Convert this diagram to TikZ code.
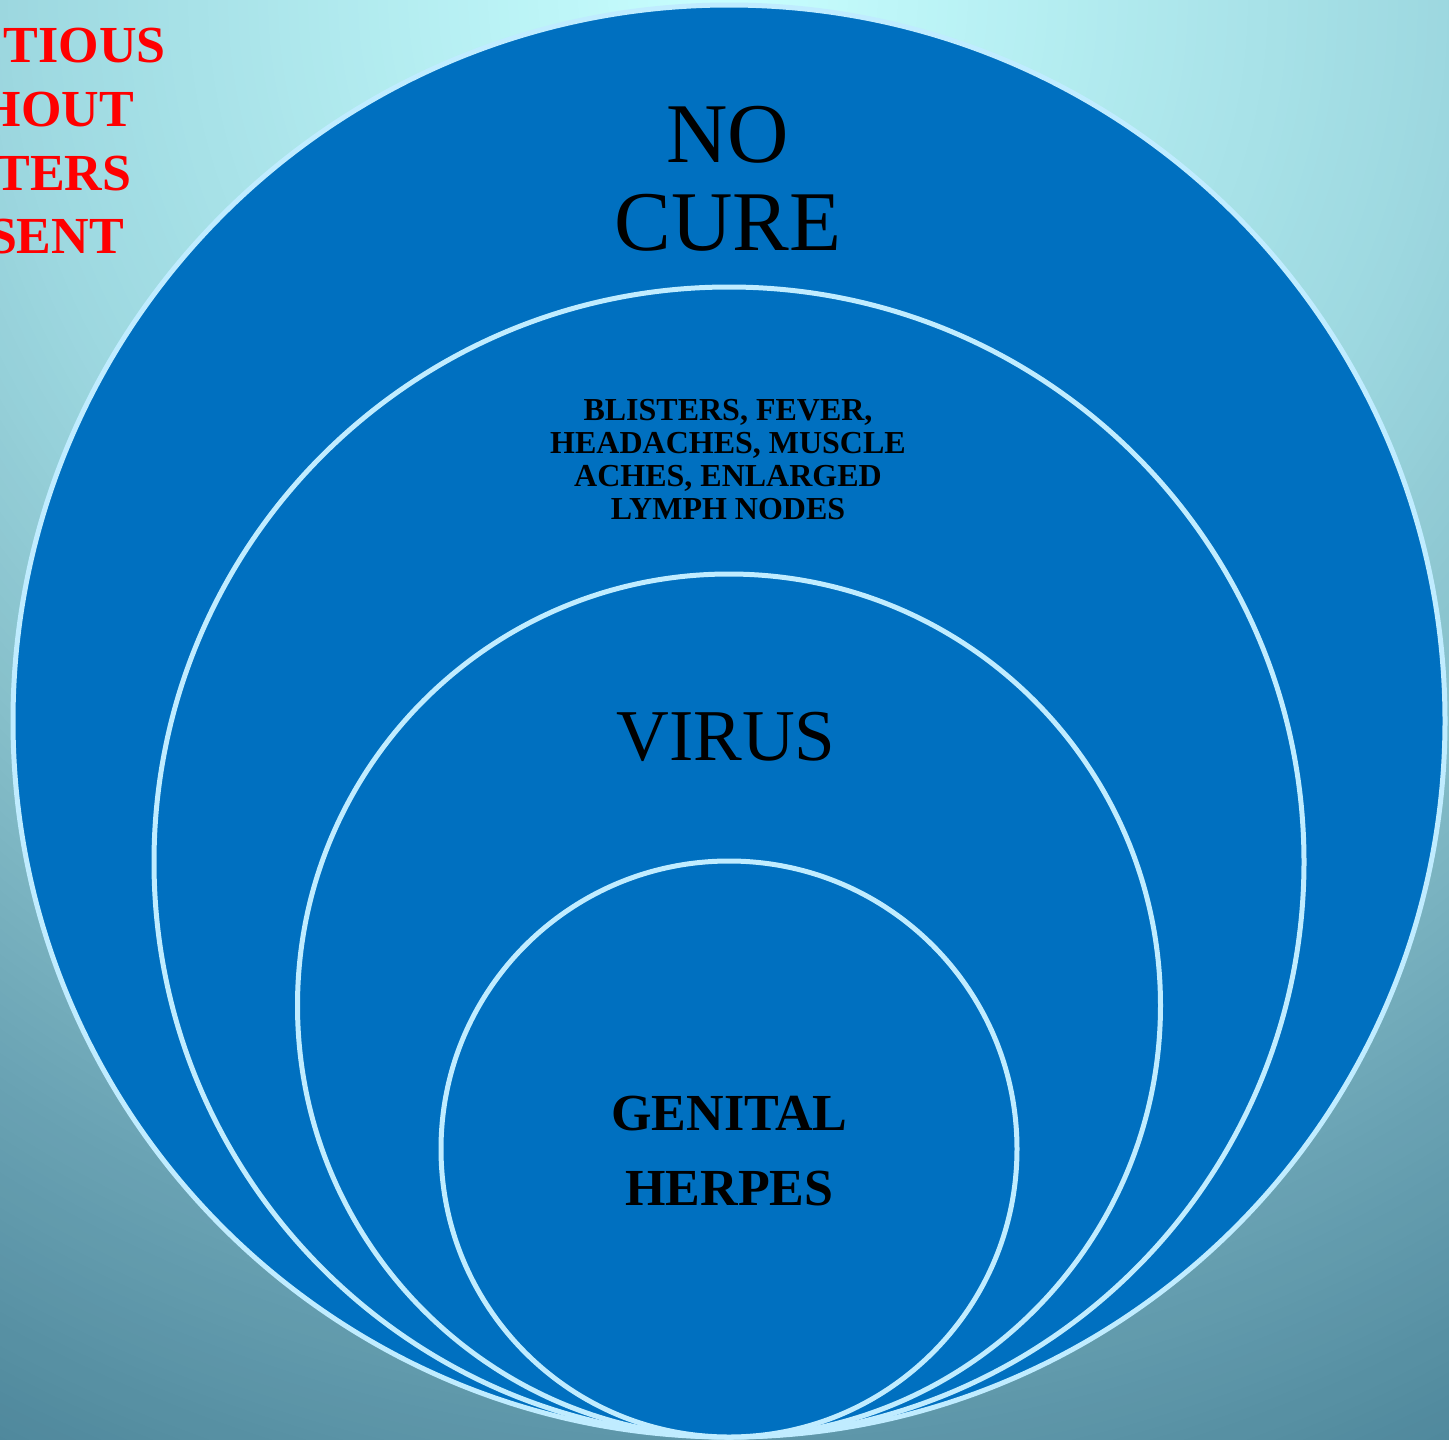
\documentclass[tikz,border=0pt]{standalone}
\usepackage{fontspec}
\setmainfont{Liberation Serif}
\definecolor{bgA}{HTML}{C8FFFF}
\definecolor{bgB}{HTML}{9DD8E0}
\definecolor{bgC}{HTML}{86BFCA}
\definecolor{bgD}{HTML}{6AA3B4}
\definecolor{bgE}{HTML}{4F889C}
\definecolor{ringfill}{HTML}{0070C0}
\definecolor{ringline}{HTML}{C0ECFF}
\definecolor{alertred}{HTML}{FF0000}
\newcommand{\fsz}[1]{\fontsize{#1}{#1}\selectfont}
\tikzset{
  ring/.style={fill=ringfill, draw=ringline, line width=5pt},
  txt/.style={inner sep=0pt, outer sep=0pt, anchor=base, text=black},
}
\begin{document}
\begin{tikzpicture}[x=1pt,y=-1pt]
\useasboundingbox (0,0) rectangle (1449,1440);
\clip (0,0) rectangle (1449,1440);
% background: radial gradient from the top centre, built from bands
\foreach \d in {1630,1620,...,1310}{
  \pgfmathsetmacro\p{min(100,(\d-1300)/320*100)}
  \fill[bgE!\p!bgD] (728,0) circle (\d);}
\foreach \d in {1300,1290,...,1030}{
  \pgfmathsetmacro\p{(\d-1020)/280*100}
  \fill[bgD!\p!bgC] (728,0) circle (\d);}
\foreach \d in {1020,1010,...,730}{
  \pgfmathsetmacro\p{(\d-720)/300*100}
  \fill[bgC!\p!bgB] (728,0) circle (\d);}
\foreach \d in {720,710,...,10}{
  \pgfmathsetmacro\p{\d/720*100}
  \fill[bgB!\p!bgA] (728,0) circle (\d);}
% nested circles, tangent at the bottom
\draw[ring] (729,721) circle (716);
\draw[ring] (729,862) circle (575);
\draw[ring] (729,1005.5) circle (431.5);
\draw[ring] (729,1149) circle (288);
% labels
\node[txt, font=\fsz{85}] (nocure1) at (728,162) {NO};
\node[txt, font=\fsz{85}] (nocure2) at (728,250) {CURE};
\node[txt, font=\fsz{32}\bfseries] (sym1) at (728,420.5) {BLISTERS, FEVER,};
\node[txt, font=\fsz{32}\bfseries] (sym2) at (728,453) {HEADACHES, MUSCLE};
\node[txt, font=\fsz{32}\bfseries] (sym3) at (728,486) {ACHES, ENLARGED};
\node[txt, font=\fsz{32}\bfseries] (sym4) at (728,519) {LYMPH NODES};
\node[txt, font=\fsz{73}] (virus) at (726,760.5) {VIRUS};
\node[txt, font=\fsz{52}\bfseries] (gh1) at (729.5,1130) {GENITAL};
\node[txt, font=\fsz{52}\bfseries] (gh2) at (729.5,1205) {HERPES};
% red note, partly outside the picture on the left (as in the reference)
\node[txt, text=alertred, font=\fsz{52}\bfseries] (note1) at (4,62) {INFECTIOUS};
\node[txt, text=alertred, font=\fsz{52}\bfseries] (note2) at (4,126) {WITHOUT};
\node[txt, text=alertred, font=\fsz{52}\bfseries] (note3) at (4,190) {BLISTERS};
\node[txt, text=alertred, font=\fsz{52}\bfseries] (note4) at (4,253) {PRESENT};
\end{tikzpicture}
\end{document}
